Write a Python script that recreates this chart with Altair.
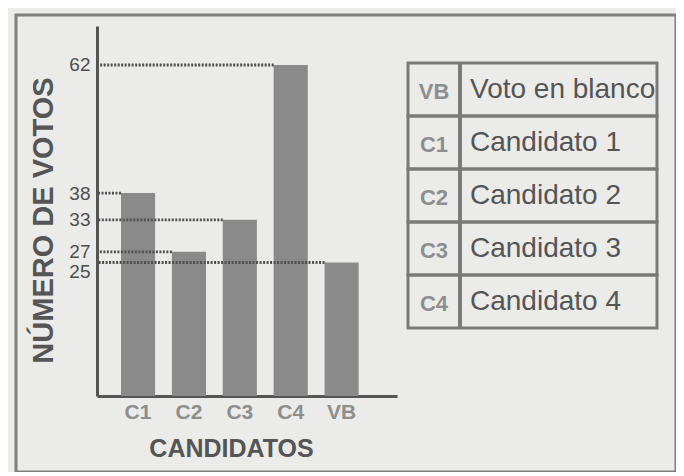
import altair as alt
import pandas as pd

# ---- data ----
categories = ["C1", "C2", "C3", "C4", "VB"]
votes = [38, 27, 33, 62, 25]
tick_values = [25, 27, 33, 38, 62]

table_codes = ["VB", "C1", "C2", "C3", "C4"]
table_names = ["Voto en blanco", "Candidato 1", "Candidato 2", "Candidato 3", "Candidato 4"]

bars_df = pd.DataFrame({"cat": categories, "votes": votes})
table_df = pd.DataFrame({"code": table_codes, "name": table_names})

SANS = "Liberation Sans, Arial, sans-serif"
DARK = "#555555"
LIGHT = "#8e8e8e"

W, H = 660, 457

xscale = alt.Scale(domain=categories, range=[81, 381], paddingInner=0.33,
                   paddingOuter=0.612, align=0.385)
yscale = alt.Scale(domain=[0, 69.3], range=[381, 11], nice=False)

xaxis = alt.Axis(
    title="CANDIDATOS", labelAngle=0, ticks=False, grid=False,
    domainColor=DARK, domainWidth=3, offset=-76,
    labelFont=SANS, labelFontSize=21, labelFontWeight="bold", labelColor=LIGHT, labelPadding=5,
    titleFont=SANS, titleFontSize=25, titleFontWeight="bold", titleColor=DARK,
    titleX=215, titleY=52, titleBaseline="middle", titleAlign="center",
)
yaxis = alt.Axis(
    title="NÚMERO DE VOTOS", values=tick_values, ticks=False, grid=False,
    domainColor=DARK, domainWidth=3, offset=-81,
    labelFont=SANS, labelFontSize=19, labelColor="#4e4e4e", labelPadding=7,
    labelOverlap=False,
    labelBaseline={"condition": {"test": "datum.value == 25", "value": "top"}, "value": "middle"},
    titleFont=SANS, titleFontSize=29, titleFontWeight="bold", titleColor=DARK,
    titleX=-54, titleY=205, titleBaseline="middle", titleAlign="center", titleAngle=-90,
)

bars = alt.Chart(bars_df).mark_bar(color="#8a8a8a").encode(
    x=alt.X("cat:N", scale=xscale, axis=xaxis, sort=categories),
    y=alt.Y("votes:Q", scale=yscale, axis=yaxis),
)

guides = alt.Chart(bars_df).mark_rule(color="#4e4e4e", strokeWidth=2.8, strokeDash=[2, 1.5]).encode(
    x=alt.X("cat:N", scale=xscale, sort=categories, bandPosition=0),
    x2=alt.value(82),
    y=alt.Y("votes:Q", scale=yscale),
)

plot_layer = alt.layer(bars, guides)

tyscale = alt.Scale(domain=table_codes, range=[48, 313], paddingInner=0, paddingOuter=0)

cells = alt.Chart(table_df).mark_rect(fill="transparent", stroke="#7a7a7a", strokeWidth=3).encode(
    x=alt.value(392), x2=alt.value(641),
    y=alt.Y("code:N", scale=tyscale, sort=table_codes, axis=None),
)
divider = alt.Chart(table_df).mark_rule(color="#7a7a7a", strokeWidth=3).encode(
    x=alt.value(444), y=alt.value(48), y2=alt.value(313),
)
codes_txt = alt.Chart(table_df).mark_text(font=SANS, fontSize=22, fontWeight="bold", color=LIGHT,
                                          align="center", baseline="middle", dy=2).encode(
    x=alt.value(418),
    y=alt.Y("code:N", scale=tyscale, sort=table_codes, axis=None),
    text="code:N",
)
names_txt = alt.Chart(table_df).mark_text(font=SANS, fontSize=28, color="#555555",
                                          align="left", baseline="middle", dy=0).encode(
    x=alt.value(454),
    y=alt.Y("code:N", scale=tyscale, sort=table_codes, axis=None),
    text="name:N",
)
table_layer = alt.layer(cells, divider, codes_txt, names_txt)

chart = alt.layer(plot_layer, table_layer).resolve_scale(y="independent").resolve_axis(
    y="independent"
).properties(
    width=W, height=H,
    autosize=alt.AutoSizeParams(type="none"),
    padding={"left": 8, "top": 7, "right": 0, "bottom": 0},
    background="#ebebe9",
).configure_view(stroke="#7f7f7f", strokeWidth=3)

chart.save("out.html", embed_options={"renderer": "svg", "actions": False})
